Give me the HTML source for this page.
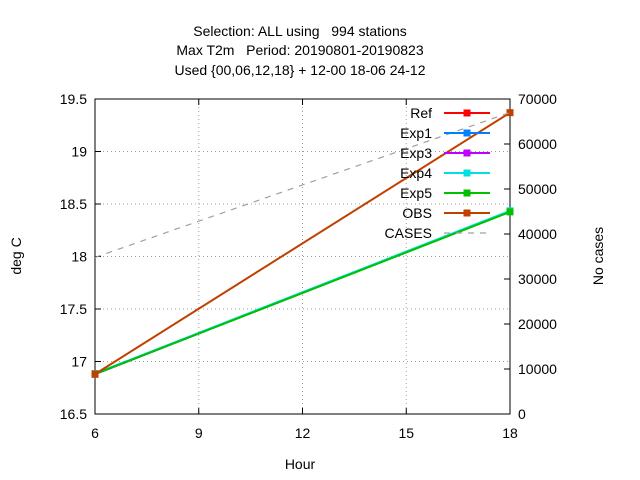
<!DOCTYPE html>
<html><head><meta charset="utf-8"><style>
body{margin:0;background:#fff}
svg{display:block;font-family:"Liberation Sans",sans-serif;font-size:14px}
text{white-space:pre}
</style></head><body>
<svg id="chart" width="640" height="480" viewBox="0 0 640 480">
<rect width="640" height="480" fill="#fff"/>
<g text-anchor="middle" font-size="14">
<text x="300" y="36">Selection: ALL using   994 stations</text>
<text x="300" y="55">Max T2m   Period: 20190801-20190823</text>
<text x="300" y="75">Used {00,06,12,18} + 12-00 18-06 24-12</text>
</g>
<g id="grid"></g>
<g id="axes"></g>
<g id="series"></g>
<g id="legend"></g>
<text x="300" y="469" text-anchor="middle">Hour</text>
<text transform="translate(21,256) rotate(-90)" text-anchor="middle">deg C</text>
<text transform="translate(603,256) rotate(-90)" text-anchor="middle">No cases</text>
</svg>
<script>
const hours=[6,18];
const xTicks=[6,9,12,15,18];
const yTicks=[16.5,17,17.5,18,18.5,19,19.5];
const y2Ticks=[0,10000,20000,30000,40000,50000,60000,70000];
const seriesNames=["Ref","Exp1","Exp3","Exp4","Exp5","OBS"];
const seriesColors=["#ff0000","#0080ff","#c000ff","#00e0e0","#00c000","#c04000"];
const refVals=[16.88,18.43];
const exp1Vals=[16.88,18.43];
const exp3Vals=[16.88,18.43];
const exp4Vals=[16.885,18.435];
const exp5Vals=[16.88,18.425];
const obsVals=[16.88,19.37];
const casesVals=[34800,67000];

const L=95,R=510,T=99,B=414,NS="http://www.w3.org/2000/svg";
const xs=v=>L+(v-6)/12*(R-L);
const ys=v=>B-(v-16.5)/3*(B-T);
const y2s=v=>B-v/70000*(B-T);
function mk(p,t,a){const e=document.createElementNS(NS,t);for(const k in a)e.setAttribute(k,a[k]);p.appendChild(e);return e;}
const G=document.getElementById('grid'),A=document.getElementById('axes'),S=document.getElementById('series'),LG=document.getElementById('legend');
xTicks.forEach(v=>{const x=xs(v);
 if(v>6&&v<18){const g=mk(G,'line',{x1:x,x2:x,y1:T,y2:B,stroke:'#a0a0a0','stroke-dasharray':'1,3'});}
 mk(A,'line',{x1:x,x2:x,y1:B,y2:B-6,stroke:'#000'});mk(A,'line',{x1:x,x2:x,y1:T,y2:T+6,stroke:'#000'});
 const t=mk(A,'text',{x:x,y:B+24,'text-anchor':'middle'});t.textContent=v;
 });
yTicks.forEach(v=>{const y=ys(v);
 if(v>16.5&&v<19.5){const g=mk(G,'line',{x1:L,x2:R,y1:y,y2:y,stroke:'#a0a0a0','stroke-dasharray':'1,3'});}
 mk(A,'line',{x1:L,x2:L+6,y1:y,y2:y,stroke:'#000'});
 const t=mk(A,'text',{x:L-8,y:y+5,'text-anchor':'end'});t.textContent=v;
 });
y2Ticks.forEach(v=>{const y=y2s(v);
 mk(A,'line',{x1:R,x2:R-6,y1:y,y2:y,stroke:'#000'});
 const t=mk(A,'text',{x:R+8,y:y+5,'text-anchor':'start'});t.textContent=v;
 });
const fr=mk(A,'rect',{x:L,y:T,width:R-L,height:B-T,fill:'none',stroke:'#000'});


const allVals=[refVals,exp1Vals,exp3Vals,exp4Vals,exp5Vals,obsVals];
allVals.forEach((vals,i)=>{
 const pts=hours.map((h,j)=>xs(h)+','+ys(vals[j])).join(' ');
 const pl=mk(S,'polyline',{points:pts,fill:'none',stroke:seriesColors[i],'stroke-width':2});
 
 hours.forEach((h,j)=>{const m=mk(S,'rect',{x:xs(h)-3.5,y:ys(vals[j])-3.5,width:7,height:7,fill:seriesColors[i]});
  });
});
const cp=hours.map((h,j)=>xs(h)+','+y2s(casesVals[j])).join(' ');
const cl=mk(S,'polyline',{points:cp,fill:'none',stroke:'#a0a0a0','stroke-width':1.2,'stroke-dasharray':'6,6'});


const legNames=seriesNames.concat(["CASES"]);
legNames.forEach((n,i)=>{const y=113+i*20;
 const t=mk(LG,'text',{x:432,y:y+5,'text-anchor':'end'});t.textContent=n;
 
 if(i<6){const l=mk(LG,'line',{x1:444,x2:490,y1:y,y2:y,stroke:seriesColors[i],'stroke-width':2});
  
  const m=mk(LG,'rect',{x:463.5,y:y-3.5,width:7,height:7,fill:seriesColors[i]});
  }
 else{const l=mk(LG,'line',{x1:444,x2:490,y1:y,y2:y,stroke:'#a0a0a0','stroke-width':1.2,'stroke-dasharray':'6,6'});
  }
});
</script>
</body></html>
